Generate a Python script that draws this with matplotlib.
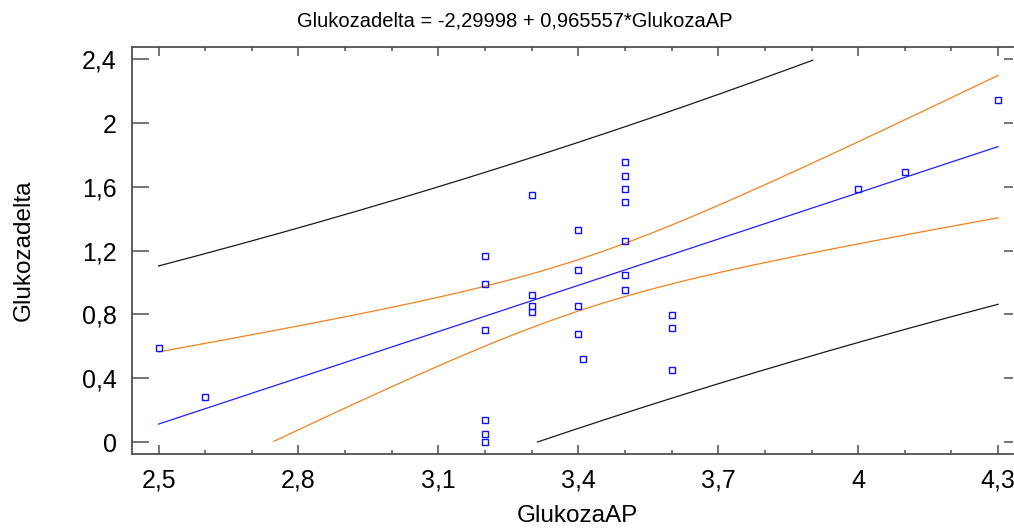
import numpy as np
import matplotlib
matplotlib.use('Agg')
import matplotlib.pyplot as plt
from matplotlib.ticker import MultipleLocator, FuncFormatter

plt.rcParams['font.family'] = ['Liberation Sans', 'DejaVu Sans']

# data
glukoza_ap = [2.5, 2.6,
              3.2, 3.2, 3.2, 3.2, 3.2, 3.2,
              3.3, 3.3, 3.3, 3.3,
              3.4, 3.4, 3.4, 3.4, 3.41,
              3.5, 3.5, 3.5, 3.5, 3.5, 3.5, 3.5,
              3.6, 3.6, 3.6,
              4.0, 4.1, 4.3]
glukoza_delta = [0.587, 0.282,
                 1.168, 0.992, 0.702, 0.136, 0.048, 0.0,
                 1.549, 0.920, 0.855, 0.813,
                 1.329, 1.080, 0.855, 0.677, 0.522,
                 1.757, 1.670, 1.588, 1.507, 1.258, 1.047, 0.951,
                 0.798, 0.717, 0.451,
                 1.588, 1.693, 2.144]
title = 'Glukozadelta = -2,29998 + 0,965557*GlukozaAP'

x = np.array(glukoza_ap)
y = np.array(glukoza_delta)
n = len(x)

# least squares fit + 95% bands
slope, intercept = np.polyfit(x, y, 1)
resid = y - (intercept + slope * x)
s = np.sqrt(np.sum(resid ** 2) / (n - 2))
t = 2.048  # t(0.975, 28 df)
sxx = np.sum((x - x.mean()) ** 2)

xs = np.linspace(x.min(), x.max(), 300)
fit = intercept + slope * xs
conf = t * s * np.sqrt(1 / n + (xs - x.mean()) ** 2 / sxx)
pred = t * s * np.sqrt(1 + 1 / n + (xs - x.mean()) ** 2 / sxx)


def clip(v):
    # the program only draws the bands inside 0..2.4
    v = v.copy()
    v[(v < 0) | (v > 2.4)] = np.nan
    return v


fig = plt.figure(figsize=(10.14, 5.31), dpi=100)
ax = fig.add_axes([132 / 1014, 1 - 453.7 / 531, (1013 - 132) / 1014, (453.7 - 46.7) / 531])

ax.plot(xs, clip(fit + pred), color='#1a1a1a', lw=0.9)
ax.plot(xs, clip(fit - pred), color='#1a1a1a', lw=0.9)
ax.plot(xs, clip(fit + conf), color='#f0821e', lw=0.9)
ax.plot(xs, clip(fit - conf), color='#f0821e', lw=0.9)
ax.plot(xs, clip(fit), color='#2020ff', lw=0.9)
ax.plot(x, y, 's', mfc='none', mec='#1010ff', ms=4.5, mew=1.0, ls='none')

ax.set_xlim(2.443, 4.332)
ax.set_ylim(-0.073, 2.479)

ax.xaxis.set_major_locator(MultipleLocator(0.3))
ax.xaxis.set_minor_locator(MultipleLocator(0.1))
ax.yaxis.set_major_locator(MultipleLocator(0.4))
ax.xaxis.set_major_locator(plt.FixedLocator([2.5, 2.8, 3.1, 3.4, 3.7, 4.0, 4.3]))
ax.yaxis.set_major_locator(plt.FixedLocator([0, 0.4, 0.8, 1.2, 1.6, 2.0, 2.4]))
fmt = FuncFormatter(lambda v, p: f'{v:g}'.replace('.', ','))
ax.xaxis.set_major_formatter(fmt)
ax.yaxis.set_major_formatter(fmt)

axis_col = '#505050'
for side in ['left', 'bottom', 'top']:
    ax.spines[side].set_color(axis_col)
    ax.spines[side].set_linewidth(1.3)
ax.spines['right'].set_visible(False)

ax.tick_params(axis='x', which='major', direction='in', length=6.5, width=1.1,
               color=axis_col, top=True, labelsize=18, pad=11)
ax.tick_params(axis='x', which='minor', direction='in', length=3, width=1.1,
               color=axis_col, top=True)
ax.tick_params(axis='y', which='major', direction='in', length=12, width=1.1,
               color=axis_col, labelsize=18, pad=11)

sec = ax.secondary_yaxis('right')
sec.yaxis.set_major_locator(plt.FixedLocator([0, 0.4, 0.8, 1.2, 1.6, 2.0, 2.4]))
sec.tick_params(direction='in', length=6.5, width=1.1, color=axis_col, labelright=False)
sec.spines['right'].set_visible(False)

fig.text(515 / 1014, 1 - 21 / 531, title, ha='center', va='center', fontsize=14.5)
fig.text(577 / 1014, 1 - 516 / 531, 'GlukozaAP', ha='center', va='center', fontsize=17.5)
fig.text(24 / 1014, 1 - 250 / 531, 'Glukozadelta', ha='center', va='center',
         rotation=90, fontsize=17.5)

fig.savefig('out.png', dpi=100)
